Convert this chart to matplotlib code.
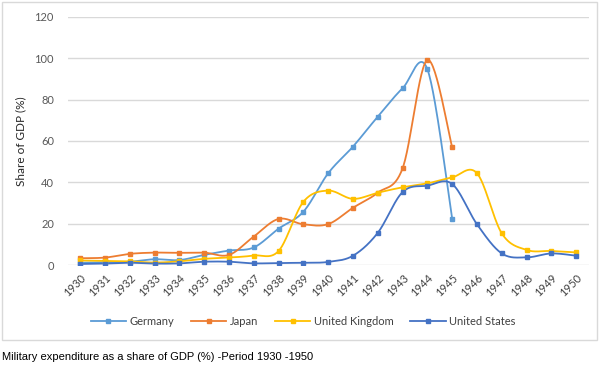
import numpy as np
import matplotlib.pyplot as plt
from matplotlib.patches import Rectangle

years = list(range(1930, 1951))

germany = [1.1, 1.3, 1.6, 2.8, 2.4, 4.9, 7.0, 8.5, 17.6, 25.8, 44.4, 57.3, 71.8, 85.5, 94.7, 22.3]
japan = [3.3, 3.6, 5.4, 6.0, 5.9, 6.0, 4.9, 13.8, 22.3, 19.7, 19.8, 27.7, 35.0, 46.8, 99.2, 57.0]
uk = [2.2, 2.0, 1.8, 1.2, 1.8, 3.0, 3.6, 4.6, 6.8, 30.6, 36.0, 32.0, 35.0, 37.6, 39.5, 42.4,
      44.4, 15.3, 7.3, 6.8, 6.1]
us = [0.5, 0.7, 1.1, 0.7, 0.8, 1.6, 1.6, 0.8, 1.0, 1.1, 1.5, 4.5, 15.6, 35.3, 38.4, 39.2,
      19.7, 5.6, 3.7, 5.6, 4.5]

series = [
    ("Germany", germany, "#5B9BD5"),
    ("Japan", japan, "#ED7D31"),
    ("United Kingdom", uk, "#FFC000"),
    ("United States", us, "#4472C4"),
]


def smooth(x, y, n=30):
    # excel style smoothed line: bezier through the points
    x = np.asarray(x, float)
    y = np.asarray(y, float)
    px = np.concatenate([[x[0]], x, [x[-1]]])
    py = np.concatenate([[y[0]], y, [y[-1]]])
    t = np.linspace(0, 1, n)[:, None]
    xs, ys = [], []
    for i in range(1, len(px) - 2):
        p0 = np.array([px[i], py[i]])
        p3 = np.array([px[i + 1], py[i + 1]])
        c1 = p0 + (p3 - np.array([px[i - 1], py[i - 1]])) / 6
        c2 = p3 - (np.array([px[i + 2], py[i + 2]]) - p0) / 6
        b = (1 - t) ** 3 * p0 + 3 * (1 - t) ** 2 * t * c1 + 3 * (1 - t) * t ** 2 * c2 + t ** 3 * p3
        xs.append(b[:, 0])
        ys.append(b[:, 1])
    return np.concatenate(xs), np.concatenate(ys)


plt.rcParams["font.family"] = ["Lato", "DejaVu Sans"]

fig = plt.figure(figsize=(6, 3.77), dpi=100)
ax = fig.add_axes([0.113, 0.297, 0.868, 0.658])

for name, vals, col in series:
    xs = years[:len(vals)]
    sx, sy = smooth(xs, vals)
    ax.plot(sx, sy, color=col, lw=1.3, zorder=3)
    ax.plot(xs, vals, ls="none", marker="s", ms=3.2, color=col, zorder=4)
    ax.plot([], [], color=col, lw=1.3, marker="s", ms=3.2, label=name)

ax.set_xlim(1929.5, 1950.5)
ax.set_ylim(0, 120)
ax.set_yticks(range(0, 121, 20))
ax.set_xticks(years)
ax.set_xticklabels([str(y) for y in years], rotation=45, ha="right", va="top",
                   rotation_mode="anchor")
ax.tick_params(axis="both", length=0, labelsize=8)
ax.tick_params(axis="x", pad=5, labelcolor="#404040")
ax.tick_params(axis="y", pad=10, labelcolor="#595959")
ax.grid(axis="y", color="#D9D9D9", lw=1)
ax.set_axisbelow(True)
for s in ax.spines.values():
    s.set_visible(False)
ax.set_ylabel("Share of GDP (%)", fontsize=8.5, color="#262626", labelpad=6)

fig.legend(loc="center", bbox_to_anchor=(0.505, 0.148), ncol=4, frameon=False,
           fontsize=8, labelcolor="#404040", handlelength=3.2, columnspacing=1.5,
           handletextpad=0.3)

fig.patches.append(Rectangle((2 / 600, 1 - 340 / 377), 595 / 600, 338 / 377,
                             transform=fig.transFigure, fill=False,
                             edgecolor="#D9D9D9", lw=1))

fig.text(2 / 600, 1 - 357 / 377, "Military expenditure as a share of GDP (%) -Period 1930 -1950",
         fontsize=8, family="Liberation Sans", va="center", ha="left", color="black")

fig.savefig("out.png", dpi=100)
